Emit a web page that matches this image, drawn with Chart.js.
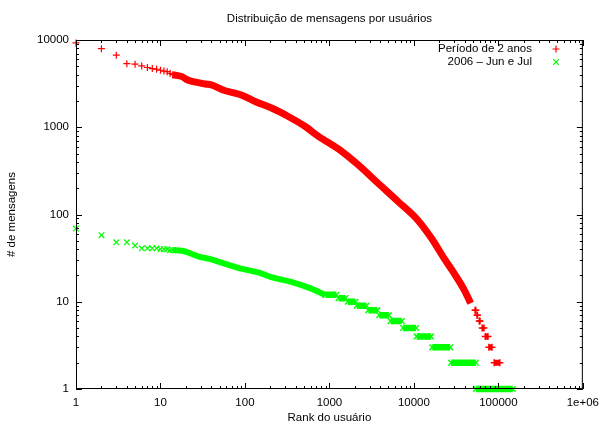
<!DOCTYPE html>
<html><head><meta charset="utf-8">
<script src="https://cdn.jsdelivr.net/npm/chart.js@4.4.0/dist/chart.umd.min.js"></script>
<style>html,body{margin:0;padding:0;background:#fff}#wrap{width:606px;height:425px;position:relative}</style>
</head><body><div id="wrap"><canvas id="c" width="606" height="425"></canvas></div>
<script>
const chartTitle = 'Distribuição de mensagens por usuários';
const xTitle = 'Rank do usuário';
const yTitle = '# de mensagens';
const seriesLabels = ['Período de 2 anos', '2006 – Jun e Jul'];
const xTickValues = [1, 10, 100, 1000, 10000, 100000, 1000000];
const xTickLabels = ['1', '10', '100', '1000', '10000', '100000', '1e+06'];
const yTickValues = [1, 10, 100, 1000, 10000];
const yTickLabels = ['1', '10', '100', '1000', '10000'];

// Série "Período de 2 anos" (vermelho)
const redRanks  = [1, 2, 3, 4, 5, 6, 7, 8, 9, 10, 11, 12, 13, 14];
const redCounts = [9250, 7950, 6700, 5350, 5280, 5050, 4840, 4700, 4620, 4500, 4400, 4330, 4150, 4000];
const redCurveRanks  = [14, 16, 18, 20, 22, 28, 34, 40, 54, 85, 95, 134, 210, 330, 518, 743, 1276, 2194, 3770, 6480, 11140, 16000, 23000, 30100, 39500, 47000];
const redCurveCounts = [4000, 3900, 3800, 3560, 3420, 3250, 3130, 3060, 2690, 2390, 2300, 1960, 1650, 1320, 1020, 785, 565, 370, 228, 141, 86, 54, 31, 21, 13.6, 9.6];
const redTailCounts = [8, 7, 6, 5, 4, 3, 2];
const redTailFrom   = [53000, 56000, 59400, 64400, 70000, 77300, 89300];
const redTailTo     = [54000, 56500, 60600, 67500, 75200, 83900, 104000];

// Série "2006 – Jun e Jul" (verde)
const greenRanks  = [1, 2, 3, 4, 5, 6, 7, 8, 9, 10, 11, 12, 13, 14];
const greenCounts = [69, 58, 48, 48, 44, 41, 41, 41, 41, 40, 40, 40, 39, 39];
const greenCurveRanks  = [14, 18, 24, 29, 38, 60, 90, 146, 200, 360, 566, 900];
const greenCurveCounts = [39, 38.5, 35, 32.7, 31, 27, 24, 21.5, 19.3, 16.8, 14.5, 12];
const greenTailCounts = [12, 11, 10, 9, 8, 7, 6, 5, 4, 3, 2, 1];
const greenTailFrom   = [900, 1282, 1651, 2107, 2890, 3900, 5290, 7460, 10800, 16500, 27600, 54400];
const greenTailTo     = [1208, 1550, 2033, 2740, 3690, 5055, 7180, 10600, 15900, 26900, 54000, 148000];

const RED = '#ff0000', GREEN = '#00ff00';
const FONT = {family: "'Liberation Sans', Arial, sans-serif", size: 11.5};

const pts = (xs, ys) => xs.map((x, i) => ({x: x, y: ys[i]}));
const segs = (vals, from, to) => vals.flatMap((v, i) => [{x: from[i], y: v}, {x: to[i], y: v}, {x: to[i], y: null}]);

const datasets = [
  {label: seriesLabels[1], data: pts(greenRanks, greenCounts), showLine: false, pointStyle: 'crossRot', pointRadius: 4, pointBorderWidth: 1.2, borderColor: GREEN, backgroundColor: GREEN, clip: false},
  {label: seriesLabels[1], data: pts(greenCurveRanks, greenCurveCounts), showLine: true, pointRadius: 0, borderWidth: 6, borderColor: GREEN, cubicInterpolationMode: 'monotone', borderJoinStyle: 'round'},
  {label: seriesLabels[1], data: segs(greenTailCounts, greenTailFrom, greenTailTo), showLine: true, spanGaps: false, pointStyle: 'crossRot', pointRadius: 4, pointBorderWidth: 1.5, borderWidth: 6.5, borderColor: GREEN, backgroundColor: GREEN, borderCapStyle: 'butt', clip: false},
  {label: seriesLabels[0], data: pts(redRanks, redCounts), showLine: false, pointStyle: 'cross', pointRadius: 3.5, pointBorderWidth: 1.2, borderColor: RED, backgroundColor: RED, clip: false},
  {label: seriesLabels[0], data: pts(redCurveRanks, redCurveCounts), showLine: true, pointRadius: 0, borderWidth: 7, borderColor: RED, cubicInterpolationMode: 'monotone', borderJoinStyle: 'round'},
  {label: seriesLabels[0], data: segs(redTailCounts, redTailFrom, redTailTo), showLine: true, spanGaps: false, pointStyle: 'cross', pointRadius: 3.5, pointBorderWidth: 1.5, borderWidth: 6, borderColor: RED, backgroundColor: RED, borderCapStyle: 'butt', clip: false}
];

const framePlugin = {
  id: 'gnuframe',
  afterDraw(chart) {
    const {ctx, chartArea: a, scales} = chart;
    const xs = scales.x, ys = scales.y;
    ctx.save();
    ctx.strokeStyle = '#000';
    ctx.lineWidth = 1;
    ctx.strokeRect(a.left + 0.5, a.top + 0.5, a.right - a.left - 1, a.bottom - a.top - 1);
    ctx.beginPath();
    for (let d = 0; d <= 6; d++) {
      for (let k = 1; k <= 9; k++) {
        const v = k * Math.pow(10, d);
        if (v > 1000000) break;
        const len = k === 1 ? 6 : 3;
        const px = Math.round(xs.getPixelForValue(v)) + 0.5;
        ctx.moveTo(px, a.bottom); ctx.lineTo(px, a.bottom - len);
        ctx.moveTo(px, a.top); ctx.lineTo(px, a.top + len);
        if (v <= 10000) {
          const py = Math.round(ys.getPixelForValue(v)) + 0.5;
          ctx.moveTo(a.left, py); ctx.lineTo(a.left + len, py);
          ctx.moveTo(a.right, py); ctx.lineTo(a.right - len, py);
        }
      }
    }
    ctx.stroke();
    // title
    ctx.fillStyle = '#000';
    ctx.font = FONT.size + 'px ' + FONT.family;
    ctx.textAlign = 'center';
    ctx.textBaseline = 'middle';
    ctx.fillText(chartTitle, (a.left + a.right) / 2, 19);
    // legend
    ctx.textAlign = 'right';
    const lx = 532, mx = 556;
    const ly = [49, 62];
    ctx.fillText(seriesLabels[0], lx, ly[0]);
    ctx.fillText(seriesLabels[1], lx, ly[1]);
    ctx.lineWidth = 1.2;
    ctx.strokeStyle = RED;
    ctx.beginPath();
    ctx.moveTo(mx - 3.5, ly[0]); ctx.lineTo(mx + 3.5, ly[0]);
    ctx.moveTo(mx, ly[0] - 3.5); ctx.lineTo(mx, ly[0] + 3.5);
    ctx.stroke();
    ctx.strokeStyle = GREEN;
    ctx.beginPath();
    ctx.moveTo(mx - 2.8, ly[1] - 2.8); ctx.lineTo(mx + 2.8, ly[1] + 2.8);
    ctx.moveTo(mx - 2.8, ly[1] + 2.8); ctx.lineTo(mx + 2.8, ly[1] - 2.8);
    ctx.stroke();
    ctx.restore();
  }
};

new Chart(document.getElementById('c'), {
  type: 'line',
  data: {datasets: datasets},
  plugins: [framePlugin],
  options: {
    responsive: false,
    animation: false,
    parsing: true,
    layout: {padding: {top: 40, right: 20, left: 0, bottom: 0}},
    plugins: {legend: {display: false}, title: {display: false}, tooltip: {enabled: false}},
    scales: {
      x: {
        type: 'logarithmic', min: 1, max: 1000000, position: 'bottom',
        afterBuildTicks: s => { s.ticks = xTickValues.map(v => ({value: v})); },
        afterFit: s => { s.height = 36; },
        ticks: {callback: v => xTickLabels[xTickValues.indexOf(v)], font: FONT, color: '#000', padding: 7, maxRotation: 0, autoSkip: false},
        grid: {display: false, drawTicks: false}, border: {display: false},
        title: {display: true, text: xTitle, font: FONT, color: '#000', padding: {top: 0, bottom: 0}}
      },
      y: {
        type: 'logarithmic', min: 1, max: 10000, position: 'left',
        afterBuildTicks: s => { s.ticks = yTickValues.map(v => ({value: v})); },
        afterFit: s => { s.width = 76; },
        ticks: {callback: v => yTickLabels[yTickValues.indexOf(v)], font: FONT, color: '#000', padding: 7, autoSkip: false},
        grid: {display: false, drawTicks: false}, border: {display: false},
        title: {display: true, text: yTitle, font: FONT, color: '#000', padding: {top: 5, bottom: 0}}
      }
    }
  }
});
</script></body></html>
